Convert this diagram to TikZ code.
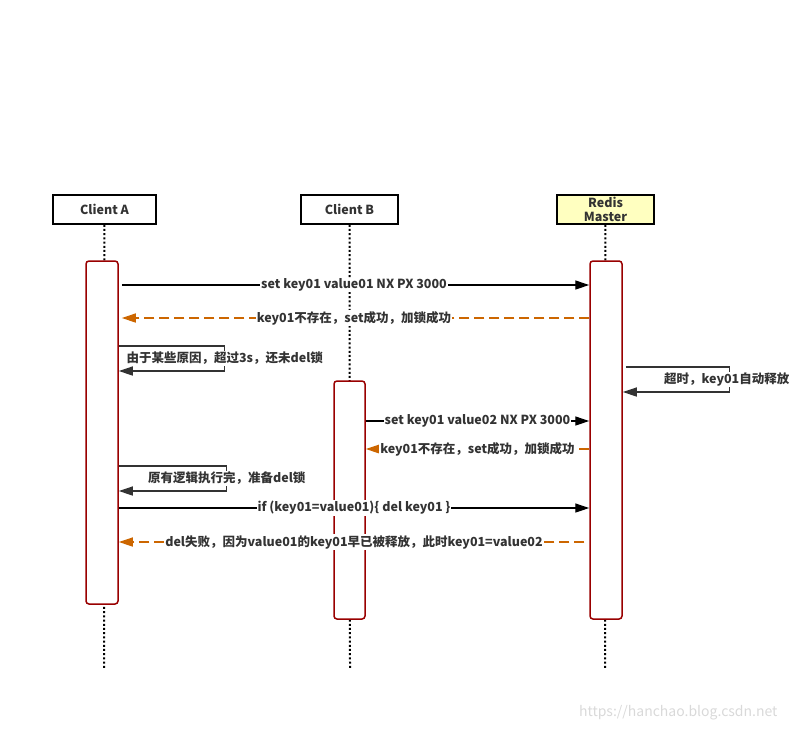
\documentclass[tikz,border=0pt]{standalone}
\usepackage{fontspec}
\setmainfont{Noto Sans CJK SC}
\usetikzlibrary{arrows.meta,positioning}
\definecolor{barred}{HTML}{990000}
\definecolor{replyorange}{HTML}{CC6600}
\definecolor{masterfill}{HTML}{FFFFC0}
\definecolor{textgray}{HTML}{333333}

\begin{document}
\begin{tikzpicture}[x=1pt, y=-1pt, >={Triangle[length=14pt,width=9pt]},
  font=\bfseries\fontsize{12.5}{14}\selectfont, text=textgray,
  head/.style={draw=black, line width=1.5pt, minimum height=29pt, inner sep=0pt},
  bar/.style={draw=barred, line width=1.5pt, rounded corners=3pt, fill=white, minimum width=32pt, inner sep=0pt},
  life/.style={line width=2pt, dash pattern=on 2pt off 2.2pt},
  call/.style={->, line width=1.3pt},
  reply/.style={->, draw=replyorange, line width=1.3pt, dash pattern=on 10pt off 5pt},
  selfcall/.style={->, draw=textgray, line width=1.3pt},
  lbl/.style={fill=white, inner sep=1pt}]
  \useasboundingbox (0,0) rectangle (791,731);

  \node[head, minimum width=103pt] (ca) at (104.5,209.5) {Client A};
  \node[head, minimum width=97pt] (cb) at (349.5,209.5) {Client B};
  \node[head, minimum width=97pt, fill=masterfill, align=center] (rm) at (605.5,209.5) {Redis\\Master};

  \coordinate (ea) at (104,668);
  \coordinate (eb) at (350,668);
  \coordinate (er) at (605,668);
  \draw[life] (ca) -- (ea);
  \draw[life] (cb) -- (eb);
  \draw[life] (rm) -- (er);

  \node[bar, minimum height=343pt] (ba) at (102,432.5) {};
  \node[bar, minimum height=238pt, minimum width=31pt] (bb) at (349.5,500) {};
  \node[bar, minimum height=358pt] (br) at (606,440) {};

  \coordinate (r1) at (0,285);
  \coordinate (r2) at (0,318);
  \coordinate (r3) at (0,346);
  \coordinate (r4) at (0,367);
  \coordinate (r5) at (0,421);
  \coordinate (r6) at (0,449);
  \coordinate (r7) at (0,466);
  \coordinate (r8) at (0,508);
  \coordinate (r9) at (0,542);

  \draw[call, shorten <=3pt] (ba.east |- r1) -- (br.west |- r1) node[lbl, midway] {set key01 value01 NX PX 3000};
  \draw[reply, shorten >=3pt] (br.west |- r2) -- (ba.east |- r2) node[lbl, midway] {key01不存在，set成功，加锁成功};
  \draw[selfcall] (ba.east |- r3) -- ++(106,0) -- ++(0,25) node[lbl, midway] {由于某些原因，超过3s，还未del锁} -- ++(-106,0);
  \draw[selfcall, shorten <=3pt] (br.east |- r4) -- ++(107,0) -- ++(0,25) node[lbl, midway, xshift=-3pt] {超时，key01自动释放} -- ++(-107,0);
  \draw[call] (bb.east |- r5) -- (br.west |- r5) node[lbl, midway] {set key01 value02 NX PX 3000};
  \draw[reply] (br.west |- r6) -- (bb.east |- r6) node[lbl, midway] {key01不存在，set成功，加锁成功};
  \draw[selfcall] (ba.east |- r7) -- ++(108,0) -- ++(0,25) node[lbl, midway] {原有逻辑执行完，准备del锁} -- ++(-108,0);
  \draw[call] (ba.east |- r8) -- (br.west |- r8) node[lbl, midway] {if (key01=value01)\{ del key01 \}};
  \draw[reply, shorten <=5pt] (br.west |- r9) -- (ba.east |- r9) node[lbl, midway] {del失败，因为value01的key01早已被释放，此时key01=value02};

  \node[font=\fontsize{14}{14}\selectfont, text=gray!30, anchor=east] (mark) at (781,713) {https://hanchao.blog.csdn.net};
\end{tikzpicture}
\end{document}
